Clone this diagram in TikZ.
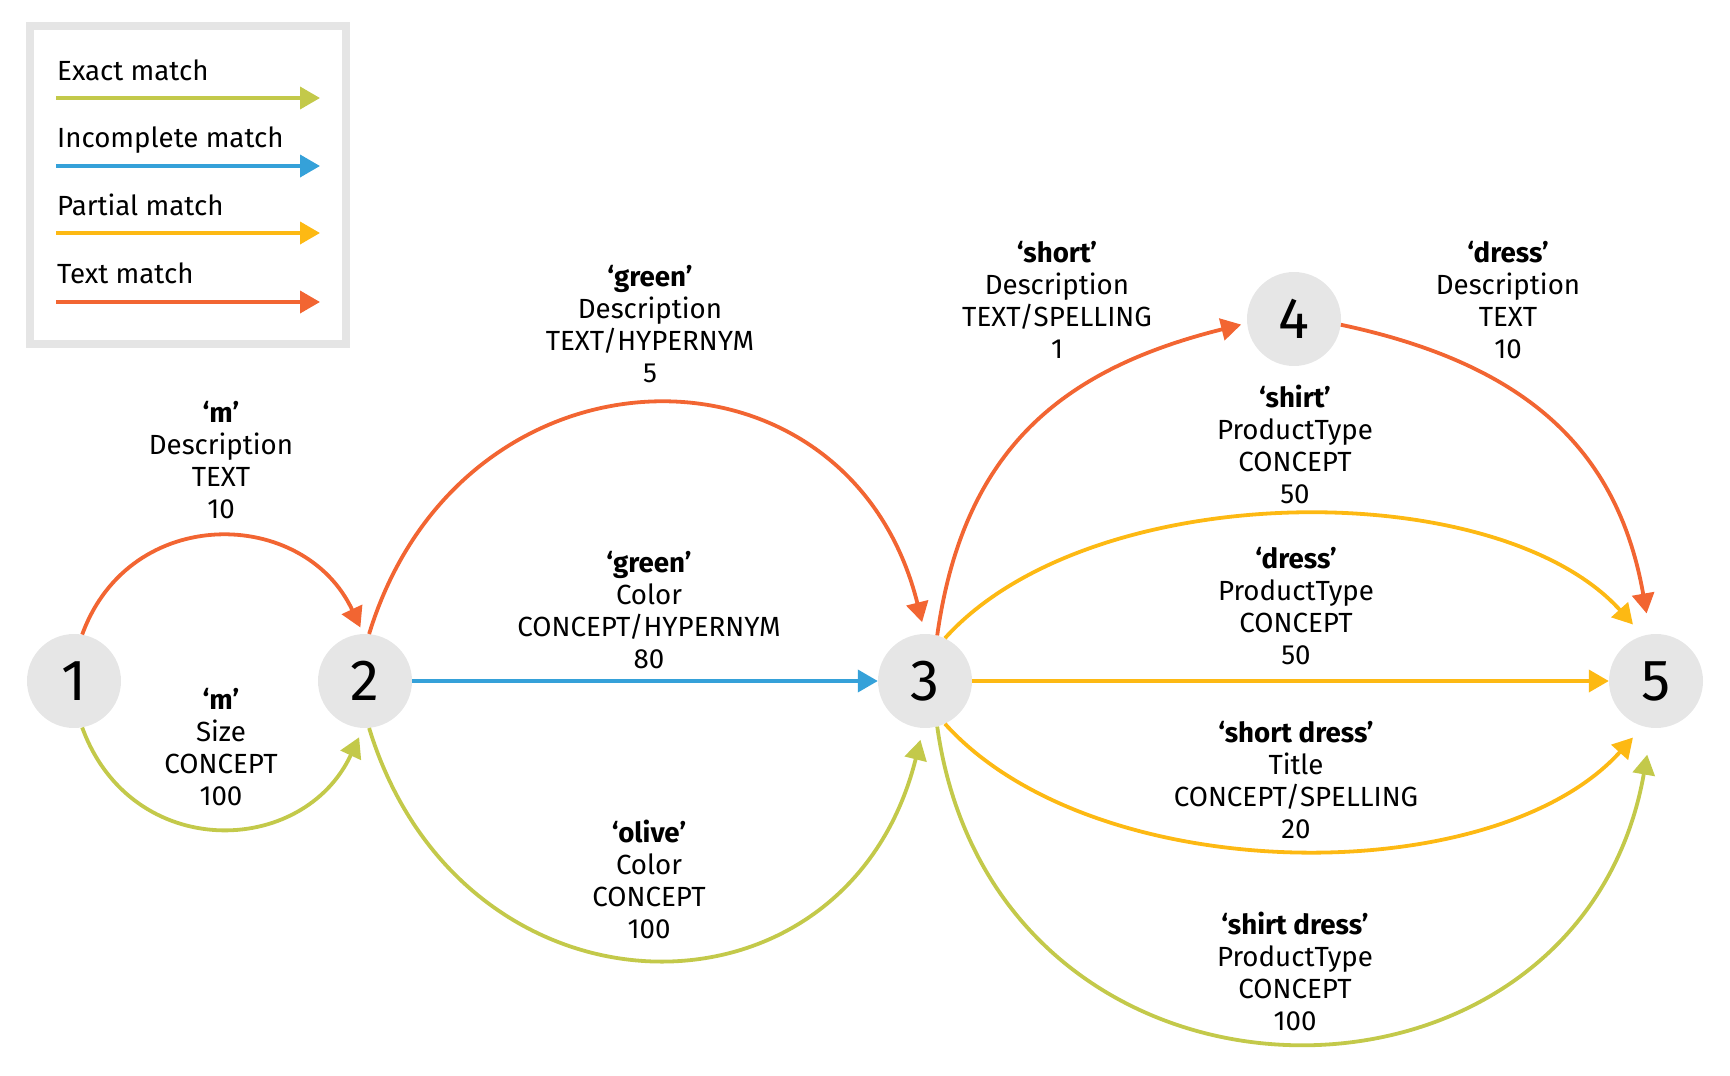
\documentclass[tikz,border=0pt]{standalone}
\usepackage{fontspec}
\setmainfont{Fira Sans}
\usetikzlibrary{arrows.meta}
\definecolor{cexact}{HTML}{C3C94A}
\definecolor{cinc}{HTML}{35A1D9}
\definecolor{cpart}{HTML}{FDB913}
\definecolor{ctext}{HTML}{F26532}
\definecolor{cnode}{HTML}{E6E6E6}
\definecolor{cbox}{HTML}{E5E5E5}
\newcommand{\edgetext}[4]{\begin{tabular}[t]{@{}c@{}}\textbf{#1}\\#2\\#3\\#4\end{tabular}}
\begin{document}
\begin{tikzpicture}[x=1pt,y=-1pt,
  vnode/.style={circle,fill=cnode,minimum size=94pt,inner sep=0pt,font=\fontsize{58}{60}\selectfont},
  lab/.style={anchor=base,inner sep=0pt,font=\fontsize{27.7}{32}\selectfont},
  leg/.style={anchor=base west,inner sep=0pt,font=\fontsize{27.7}{32}\selectfont},
  conn/.style={line width=3.8pt,-{Triangle[length=20pt,width=22pt]}},
  exactm/.style={conn,draw=cexact},
  incm/.style={conn,draw=cinc},
  partm/.style={conn,draw=cpart},
  textm/.style={conn,draw=ctext}]
\useasboundingbox (0,0) rectangle (1730,1076);
% legend
\node[draw=cbox,line width=8pt,minimum width=316pt,minimum height=318pt,inner sep=0pt] (legend) at (188,185) {};
\node[leg] (t1) at (57,80) {Exact match};
\node[leg] (t2) at (57,147) {Incomplete match};
\node[leg] (t3) at (57,215) {Partial match};
\node[leg] (t4) at (57,283) {Text match};
\coordinate (a1) at (56,98);  \coordinate (b1) at (320,98);
\coordinate (a2) at (56,166); \coordinate (b2) at (320,166);
\coordinate (a3) at (56,233); \coordinate (b3) at (320,233);
\coordinate (a4) at (56,302); \coordinate (b4) at (320,302);
\draw[exactm] (a1) -- (b1);
\draw[incm] (a2) -- (b2);
\draw[partm] (a3) -- (b3);
\draw[textm] (a4) -- (b4);
% nodes
\node[vnode] (n1) at (74,681) {1};
\node[vnode] (n2) at (365,681) {2};
\node[vnode] (n3) at (925,681) {3};
\node[vnode] (n4) at (1294,319) {4};
\node[vnode] (n5) at (1656,681) {5};
% edges
\draw[textm,shorten >=7pt] (n1.80) to[out=70,in=115,looseness=1.27] (n2.92);
\draw[exactm,shorten >=10pt] (n1.-80) to[out=-70,in=-115,looseness=1.30] (n2.-92);
\draw[textm,shorten >=12pt] (n2.85) to[out=73,in=104,looseness=1.46] (n3.90);
\draw[incm] (n2) -- (n3);
\draw[exactm,shorten >=12pt] (n2.-85) to[out=-73,in=-104,looseness=1.47] (n3.-92);
\draw[textm,shorten >=6pt] (n3.75) to[out=82,in=194,looseness=1.1] (n4.185);
\draw[textm,shorten >=21pt] (n4.-7) to[out=-12,in=100,looseness=1.1] (n5.97);
\draw[partm,shorten >=15pt] (n3.65) to[out=48,in=132,looseness=0.796] (n5.106);
\draw[partm] (n3) -- (n5);
\draw[partm,shorten >=15pt] (n3.-65) to[out=-48,in=-132,looseness=0.815] (n5.-106);
\draw[exactm,shorten >=27pt] (n3.-75) to[out=-82,in=-100,looseness=1.506] (n5.-95);
% labels
\node[lab] (l1) at (221,422) {\edgetext{‘m’}{Description}{TEXT}{10}};
\node[lab] (l2) at (221,709) {\edgetext{‘m’}{Size}{CONCEPT}{100}};
\node[lab] (l3) at (650,286) {\edgetext{‘green’}{Description}{TEXT/HYPERNYM}{5}};
\node[lab] (l4) at (649,572) {\edgetext{‘green’}{Color}{CONCEPT/HYPERNYM}{80}};
\node[lab] (l5) at (649,842) {\edgetext{‘olive’}{Color}{CONCEPT}{100}};
\node[lab] (l6) at (1057,262) {\edgetext{‘short’}{Description}{TEXT/SPELLING}{1}};
\node[lab] (l7) at (1508,262) {\edgetext{‘dress’}{Description}{TEXT}{10}};
\node[lab] (l8) at (1295,407) {\edgetext{‘shirt’}{ProductType}{CONCEPT}{50}};
\node[lab] (l9) at (1296,568) {\edgetext{‘dress’}{ProductType}{CONCEPT}{50}};
\node[lab] (l10) at (1296,742) {\edgetext{‘short dress’}{Title}{CONCEPT/SPELLING}{20}};
\node[lab] (l11) at (1295,934) {\edgetext{‘shirt dress’}{ProductType}{CONCEPT}{100}};
\end{tikzpicture}
\end{document}
